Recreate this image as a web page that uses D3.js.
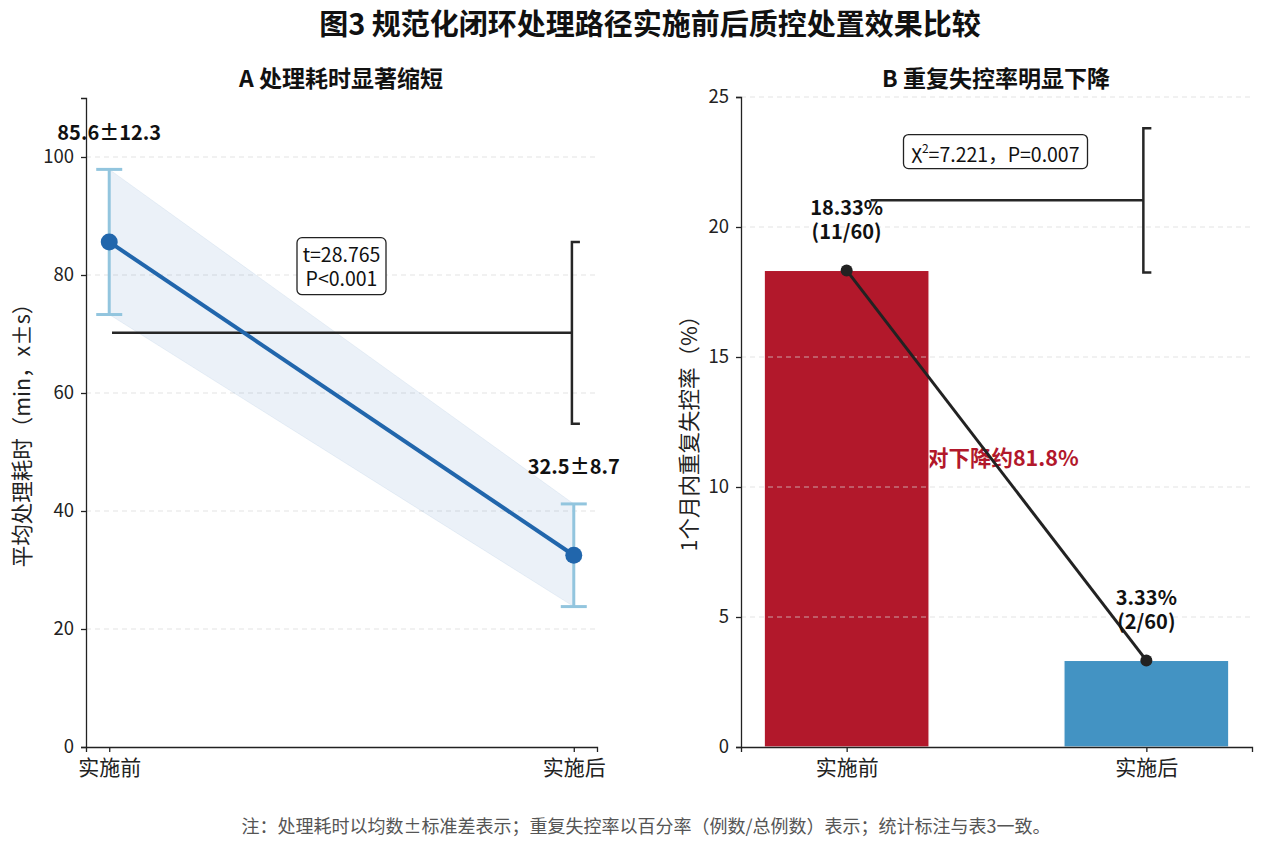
<!DOCTYPE html>
<html lang="zh">
<head>
<meta charset="UTF-8">
<title>图3 规范化闭环处理路径实施前后质控处置效果比较</title>
<script src="https://d3js.org/d3.v7.min.js"></script>
<style>
    body { margin: 0; background: #fff; }
    svg, svg text { font-family: "Noto Sans CJK SC", "Noto Sans", sans-serif; }
    .axis path, .axis line { stroke: #222; stroke-width: 1.3px; }
    .axis text { fill: #222; font-size: 18.5px; font-family: "Noto Sans CJK SC", sans-serif; }
    .axis.x text { font-size: 21px; }
    .grid line { stroke: #d9d9d9; stroke-width: 1px; stroke-dasharray: 5, 4; opacity: 0.7; }
    .bracket { fill: none; stroke: #262626; stroke-width: 2.5px; }
    .label { font-weight: bold; font-size: 20px; fill: #111; }
    .panel-title { font-weight: bold; font-size: 23px; fill: #111; }
    .ylabel { font-size: 21.5px; fill: #222; }
    .statbox rect { fill: #fff; stroke: #222; stroke-width: 1.3px; }
    .statbox text { font-size: 19.5px; fill: #111; }
</style>
</head>
<body>
<script>
const width = 1267;
const height = 849;

// data
const groups = ["实施前", "实施后"];
const timeMean = [85.6, 32.5];
const timeSd = [12.3, 8.7];
const timeTicks = [0, 20, 40, 60, 80, 100];
const rateValues = [18.33, 3.33];
const rateCounts = ["11/60", "2/60"];
const rateTicks = [0, 5, 10, 15, 20, 25];
const tStatLines = ["t=28.765", "P<0.001"];
const declineText = "相对下降约81.8%";
// bracket positions in data units: [x, yTop, yBottom, lineStartX]
const bracketA = [0.996, 85.6, 54.8, 0.006];
const bracketB = [0.99, 23.8, 18.25, 0.08];

const svg = d3.select("body").append("svg")
    .attr("width", width)
    .attr("height", height);

svg.append("text")
    .attr("x", 650).attr("y", 35)
    .attr("text-anchor", "middle")
    .style("font-size", "29px").style("font-weight", "bold").style("fill", "#111")
    .text("图3 规范化闭环处理路径实施前后质控处置效果比较");

svg.append("text")
    .attr("x", 646).attr("y", 833)
    .attr("text-anchor", "middle")
    .style("font-size", "18px").style("fill", "#555")
    .text("注：处理耗时以均数±标准差表示；重复失控率以百分率（例数/总例数）表示；统计标注与表3一致。");

function bracket(g, x, y, xb, yt, yb, x0, tick) {
    g.append("line").attr("class", "bracket")
        .attr("x1", x(x0)).attr("x2", x(xb))
        .attr("y1", y((yt + yb) / 2)).attr("y2", y((yt + yb) / 2));
    g.append("path").attr("class", "bracket")
        .attr("d", `M${x(xb) + tick},${y(yt)}H${x(xb)}V${y(yb)}H${x(xb) + tick}`);
}

function statBox(g, cx, cy, w, h) {
    const b = g.append("g").attr("class", "statbox").attr("transform", `translate(${cx},${cy})`);
    b.append("rect").attr("x", -w / 2).attr("y", -h / 2).attr("width", w).attr("height", h)
        .attr("rx", 5).attr("ry", 5);
    return b;
}

// ---------- Panel A ----------
const xA = d3.scaleLinear().domain([-0.05, 1.05]).range([86, 597]);
const yA = d3.scaleLinear().domain([0, 110]).range([747, 98]);
const gA = svg.append("g");

gA.append("g").attr("class", "grid")
    .selectAll("line").data(timeTicks.slice(1)).join("line")
    .attr("x1", 86).attr("x2", 597)
    .attr("y1", d => yA(d)).attr("y2", d => yA(d));

const band = groups.map((g, i) => [i, timeMean[i] - timeSd[i], timeMean[i] + timeSd[i]]);
gA.append("path")
    .datum(band)
    .attr("d", d3.area().x(d => xA(d[0])).y0(d => yA(d[1])).y1(d => yA(d[2])))
    .attr("fill", "#2166ac").attr("fill-opacity", 0.09)
    .attr("stroke", "#2166ac").attr("stroke-opacity", 0.08);

bracket(gA, xA, yA, bracketA[0], bracketA[1], bracketA[2], bracketA[3], 8);

// error bars
groups.forEach((g, i) => {
    const eb = gA.append("g").attr("stroke", "#92c5de").attr("stroke-width", 3);
    eb.append("line").attr("x1", xA(i)).attr("x2", xA(i))
        .attr("y1", yA(timeMean[i] - timeSd[i])).attr("y2", yA(timeMean[i] + timeSd[i]));
    [timeMean[i] - timeSd[i], timeMean[i] + timeSd[i]].forEach(v => {
        eb.append("line").attr("x1", xA(i) - 13).attr("x2", xA(i) + 13)
            .attr("y1", yA(v)).attr("y2", yA(v));
    });
});

gA.append("path")
    .datum(timeMean)
    .attr("d", d3.line().x((d, i) => xA(i)).y(d => yA(d)))
    .attr("fill", "none").attr("stroke", "#2166ac").attr("stroke-width", 4);

gA.selectAll("circle.pt").data(timeMean).join("circle")
    .attr("class", "pt")
    .attr("cx", (d, i) => xA(i)).attr("cy", d => yA(d)).attr("r", 8.5)
    .attr("fill", "#2166ac");

gA.selectAll("text.lbl").data(timeMean).join("text")
    .attr("class", "label lbl")
    .attr("x", (d, i) => xA(i)).attr("y", (d, i) => yA(d + timeSd[i] + 5))
    .attr("text-anchor", "middle")
    .text((d, i) => `${d.toFixed(1)}±${timeSd[i].toFixed(1)}`);

const tb = statBox(gA, xA(0.5), yA(81.5), 89, 57);
const tt = tb.append("text").attr("text-anchor", "middle");
tt.selectAll("tspan").data(tStatLines).join("tspan")
    .attr("x", 0).attr("y", (d, i) => -4 + i * 24)
    .text(d => d);

gA.append("g").attr("class", "axis x")
    .attr("transform", "translate(0,747)")
    .call(d3.axisBottom(xA).tickValues([0, 1]).tickFormat(i => groups[i]).tickSizeOuter(0).tickSize(5).tickPadding(8));
gA.append("g").attr("class", "axis y")
    .attr("transform", "translate(86,0)")
    .call(d3.axisLeft(yA).tickValues(timeTicks).tickSizeOuter(0).tickSize(5).tickPadding(7));

gA.append("text").attr("class", "ylabel")
    .attr("transform", "translate(30,430) rotate(-90)")
    .attr("text-anchor", "middle")
    .text("平均处理耗时（min，x±s）");

gA.append("text").attr("class", "panel-title")
    .attr("x", 341).attr("y", 87)
    .attr("text-anchor", "middle")
    .text("A 处理耗时显著缩短");

// ---------- Panel B ----------
const xB = d3.scaleLinear().domain([-0.3525, 1.3525]).range([741, 1252]);
const yB = d3.scaleLinear().domain([0, 25]).range([747, 97]);
const gB = svg.append("g");
const barW = 0.55;

// drawn before the bars, so the red bar covers its first character
gB.append("text")
    .attr("x", xB(0.485)).attr("y", yB(11.1))
    .attr("text-anchor", "middle").attr("dy", "0.35em")
    .style("font-size", "21.5px").style("font-weight", "bold").style("fill", "#b2182b")
    .text(declineText);

gB.selectAll("rect.bar").data(rateValues).join("rect")
    .attr("class", "bar")
    .attr("x", (d, i) => xB(i - barW / 2))
    .attr("width", xB(barW) - xB(0))
    .attr("y", d => yB(d))
    .attr("height", d => yB(0) - yB(d))
    .attr("fill", (d, i) => i === 0 ? "#b2182b" : "#4393c3")
    .attr("stroke", "#fff").attr("stroke-width", 1.2);

gB.append("g").attr("class", "grid")
    .selectAll("line").data(rateTicks.slice(1)).join("line")
    .attr("x1", 741).attr("x2", 1252)
    .attr("y1", d => yB(d)).attr("y2", d => yB(d));

gB.append("path")
    .datum(rateValues)
    .attr("d", d3.line().x((d, i) => xB(i)).y(d => yB(d)))
    .attr("fill", "none").attr("stroke", "#222").attr("stroke-width", 3);

gB.selectAll("circle.pt").data(rateValues).join("circle")
    .attr("class", "pt")
    .attr("cx", (d, i) => xB(i)).attr("cy", d => yB(d)).attr("r", 6)
    .attr("fill", "#222");

const lblB = gB.selectAll("text.lbl").data(rateValues).join("text")
    .attr("class", "label lbl")
    .attr("text-anchor", "middle");
lblB.append("tspan")
    .attr("x", (d, i) => xB(i)).attr("y", d => yB(d + 1.2) - 24)
    .text(d => `${d.toFixed(2)}%`);
lblB.append("tspan")
    .attr("x", (d, i) => xB(i)).attr("y", d => yB(d + 1.2))
    .text((d, i) => `(${rateCounts[i]})`);

bracket(gB, xB, yB, bracketB[0], bracketB[1], bracketB[2], bracketB[3], 8);

const cb = statBox(gB, xB(0.5) - 1, yB(22.9), 184, 34);
const ct = cb.append("text").attr("x", 0).attr("y", 7).attr("text-anchor", "middle");
ct.append("tspan").text("χ");
ct.append("tspan").attr("dy", "-0.5em").style("font-size", "12px").text("2");
ct.append("tspan").attr("dy", "0.5em").text("=7.221，P=0.007");

gB.append("g").attr("class", "axis x")
    .attr("transform", "translate(0,747)")
    .call(d3.axisBottom(xB).tickValues([0, 1]).tickFormat(i => groups[i]).tickSizeOuter(0).tickSize(5).tickPadding(8));
gB.append("g").attr("class", "axis y")
    .attr("transform", "translate(741,0)")
    .call(d3.axisLeft(yB).tickValues(rateTicks).tickSizeOuter(0).tickSize(5).tickPadding(7));

gB.append("text").attr("class", "ylabel")
    .attr("transform", "translate(697,428) rotate(-90)")
    .attr("text-anchor", "middle")
    .text("1个月内重复失控率（%）");

gB.append("text").attr("class", "panel-title")
    .attr("x", 996).attr("y", 87)
    .attr("text-anchor", "middle")
    .text("B 重复失控率明显下降");
</script>
</body>
</html>
